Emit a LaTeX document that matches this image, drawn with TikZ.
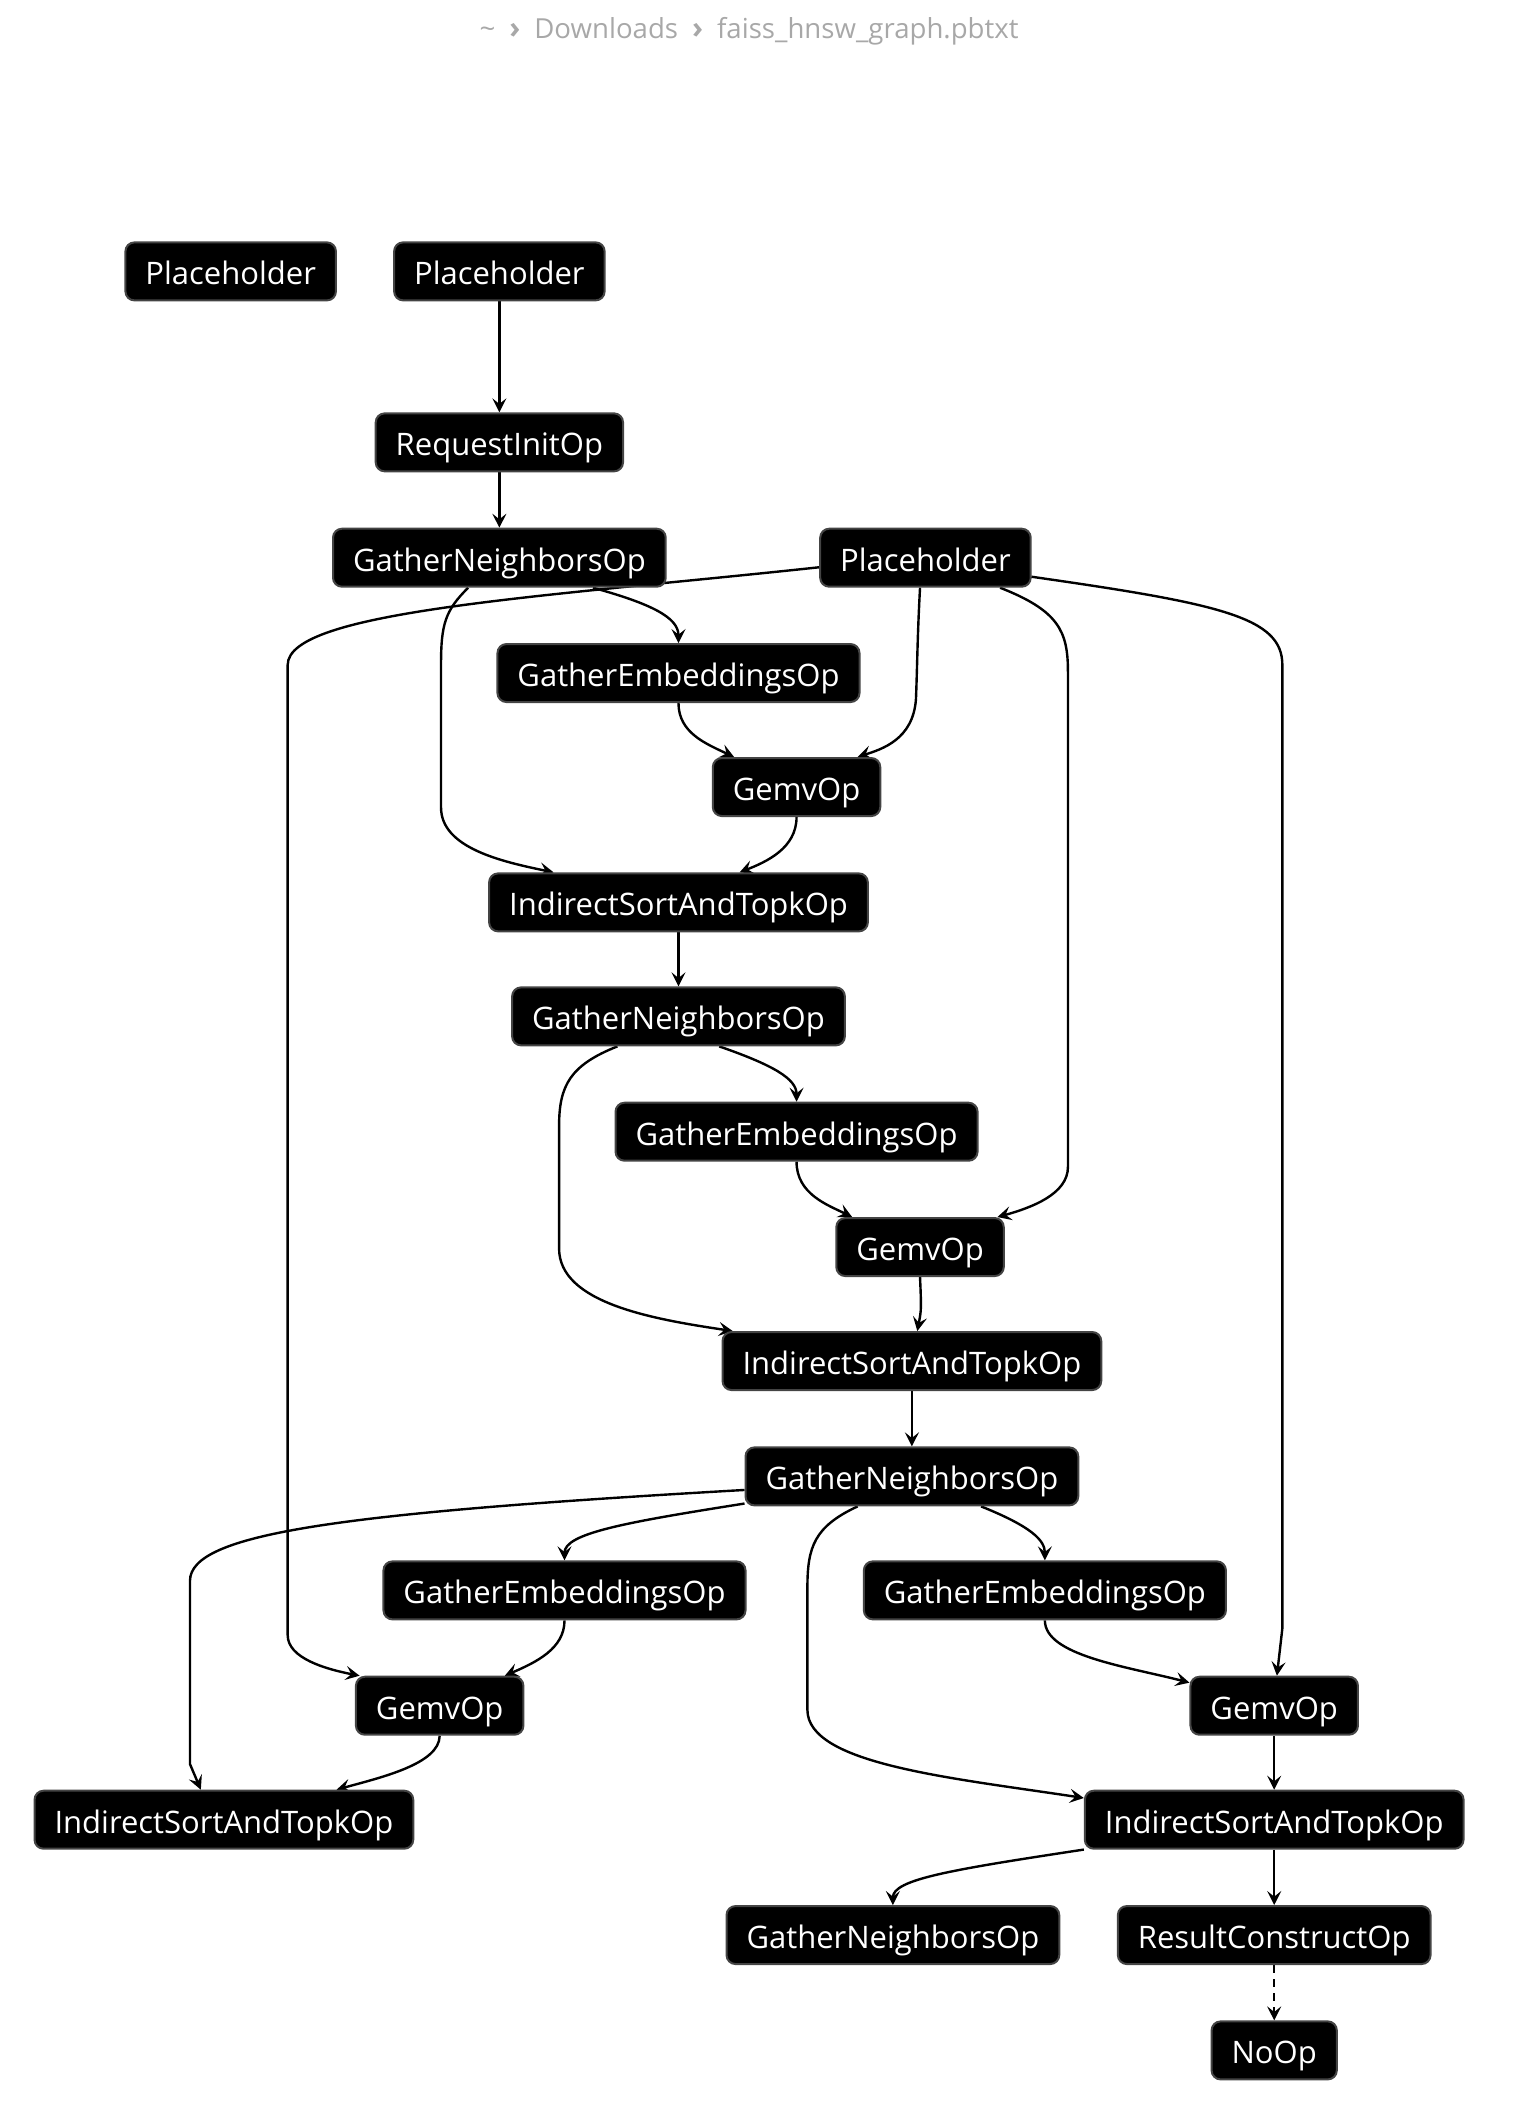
\documentclass[tikz,border=0pt]{standalone}
\usepackage{fontspec}
\setmainfont{Open Sans}
\usetikzlibrary{arrows.meta}
\definecolor{opedge}{HTML}{444444}
\definecolor{crumb}{HTML}{A8A8A8}
\pgfdeclarelayer{edges}
\pgfsetlayers{edges,main}

\tikzset{
  op/.style={draw=opedge, fill=black, text=white, line width=1pt,
    rounded corners=4.5pt, inner xsep=10pt, minimum height=29pt,
    text height=13.4pt, text depth=0pt, font=\fontsize{15.5}{18}\selectfont},
  flow/.style={line width=1.2pt, -{Stealth[length=7pt,width=7pt,inset=2.8pt]}},
}
\newcommand{\crumbsep}{\hspace{7pt}{\bfseries\fontsize{15}{17}\selectfont ›}\hspace{7pt}}

\begin{document}
\begin{tikzpicture}[x=0.6785pt, y=-0.6785pt]
    \useasboundingbox (0,0) rectangle (1124.6,1568.2);
    \node[text=crumb, font=\fontsize{13.8}{17}\selectfont] (crumbs) at (552,23)
      {\textasciitilde\crumbsep Downloads\crumbsep faiss\_hnsw\_graph.pbtxt};

    % ops
    \node[op] (ph1)   at (170,200)  {Placeholder};
    \node[op] (ph2)   at (368,200)  {Placeholder};
    \node[op] (rinit) at (368,326)  {RequestInitOp};
    \node[op] (gn1)   at (368,411)  {GatherNeighborsOp};
    \node[op] (ph3)   at (682,411)  {Placeholder};
    \node[op] (ge1)   at (500,496)  {GatherEmbeddingsOp};
    \node[op] (gemv1) at (587,580)  {GemvOp};
    \node[op] (is1)   at (500,665)  {IndirectSortAndTopkOp};
    \node[op] (gn2)   at (500,749)  {GatherNeighborsOp};
    \node[op] (ge2)   at (587,834)  {GatherEmbeddingsOp};
    \node[op] (gemv2) at (678,919)  {GemvOp};
    \node[op] (is2)   at (672,1003) {IndirectSortAndTopkOp};
    \node[op] (gn3)   at (672,1088) {GatherNeighborsOp};
    \node[op] (ge3)   at (416,1172) {GatherEmbeddingsOp};
    \node[op] (ge4)   at (770,1172) {GatherEmbeddingsOp};
    \node[op] (gemv3) at (324,1257) {GemvOp};
    \node[op] (gemv4) at (939,1257) {GemvOp};
    \node[op] (is3)   at (165,1341) {IndirectSortAndTopkOp};
    \node[op] (is4)   at (939,1341) {IndirectSortAndTopkOp};
    \node[op] (gn4)   at (658,1426) {GatherNeighborsOp};
    \node[op] (rc)    at (939,1426) {ResultConstructOp};
    \node[op] (noop)  at (939,1511) {NoOp};

    % edges, kept under the ops
    \begin{pgfonlayer}{edges}
    \draw[flow] (ph2) -- (rinit);
    \draw[flow] (rinit) -- (gn1);
    \draw[flow] (437,0 |- gn1.south) .. controls (480,445) and (500,455) .. (ge1.north);
    \draw[flow] (345,0 |- gn1.south) .. controls (328,450) and (325,460) .. (325,490)
      -- (325,595) .. controls (325,625) and (370,635) .. (408,0 |- is1.north);
    \draw[flow] (604,418) .. controls (400,440) and (212,450) .. (212,490)
      -- (212,1205) .. controls (212,1222) and (240,1230) .. (265,0 |- gemv3.north);
    \draw[flow] (678,0 |- ph3.south) .. controls (676,470) and (676,490) .. (675,515)
      .. controls (673,545) and (650,552) .. (632,0 |- gemv1.north);
    \draw[flow] (737,0 |- ph3.south) .. controls (780,450) and (787,465) .. (787,495)
      -- (787,860) .. controls (787,880) and (760,890) .. (735,0 |- gemv2.north);
    \draw[flow] (760,425) .. controls (900,445) and (945,455) .. (945,490)
      -- (945,1200) -- (941,0 |- gemv4.north);
    \draw[flow] (ge1.south) .. controls (500,540) and (520,548) .. (541,0 |- gemv1.north);
    \draw[flow] (gemv1.south) .. controls (587,625) and (565,635) .. (545,0 |- is1.north);
    \draw[flow] (is1) -- (gn2);
    \draw[flow] (530,0 |- gn2.south) .. controls (570,785) and (587,795) .. (ge2.north);
    \draw[flow] (455,0 |- gn2.south) .. controls (420,785) and (412,800) .. (412,830)
      -- (412,920) .. controls (412,960) and (480,972) .. (540,0 |- is2.north);
    \draw[flow] (ge2.south) .. controls (587,880) and (610,888) .. (628,0 |- gemv2.north);
    \draw[flow] (gemv2.south) .. controls (679,965) .. (676,0 |- is2.north);
    \draw[flow] (672,0 |- is2.south) -- (672,0 |- gn3.north);
    \draw[flow] (gn3.west |- 0,1098) .. controls (250,1115) and (140,1130) .. (140,1165)
      -- (140,1300) -- (148,0 |- is3.north);
    \draw[flow] (gn3.west |- 0,1108) .. controls (460,1122) and (416,1130) .. (ge3.north);
    \draw[flow] (632,0 |- gn3.south) .. controls (600,1125) and (595,1140) .. (595,1170)
      -- (595,1260) .. controls (595,1300) and (700,1310) .. (is4.west |- 0,1325);
    \draw[flow] (723,0 |- gn3.south) .. controls (760,1125) and (770,1135) .. (ge4.north);
    \draw[flow] (ge3.south) .. controls (416,1215) and (395,1225) .. (372,0 |- gemv3.north);
    \draw[flow] (ge4.south) .. controls (770,1220) and (830,1228) .. (gemv4.west |- 0,1240);
    \draw[flow] (gemv3.south) .. controls (324,1300) and (280,1310) .. (248,0 |- is3.north);
    \draw[flow] (gemv4) -- (is4);
    \draw[flow] (is4.west |- 0,1363) .. controls (700,1378) and (658,1385) .. (gn4.north);
    \draw[flow] (is4) -- (rc);
    \draw[flow, dash pattern=on 4pt off 3pt] (rc) -- (noop);
    \end{pgfonlayer}
  \end{tikzpicture}
\end{document}
